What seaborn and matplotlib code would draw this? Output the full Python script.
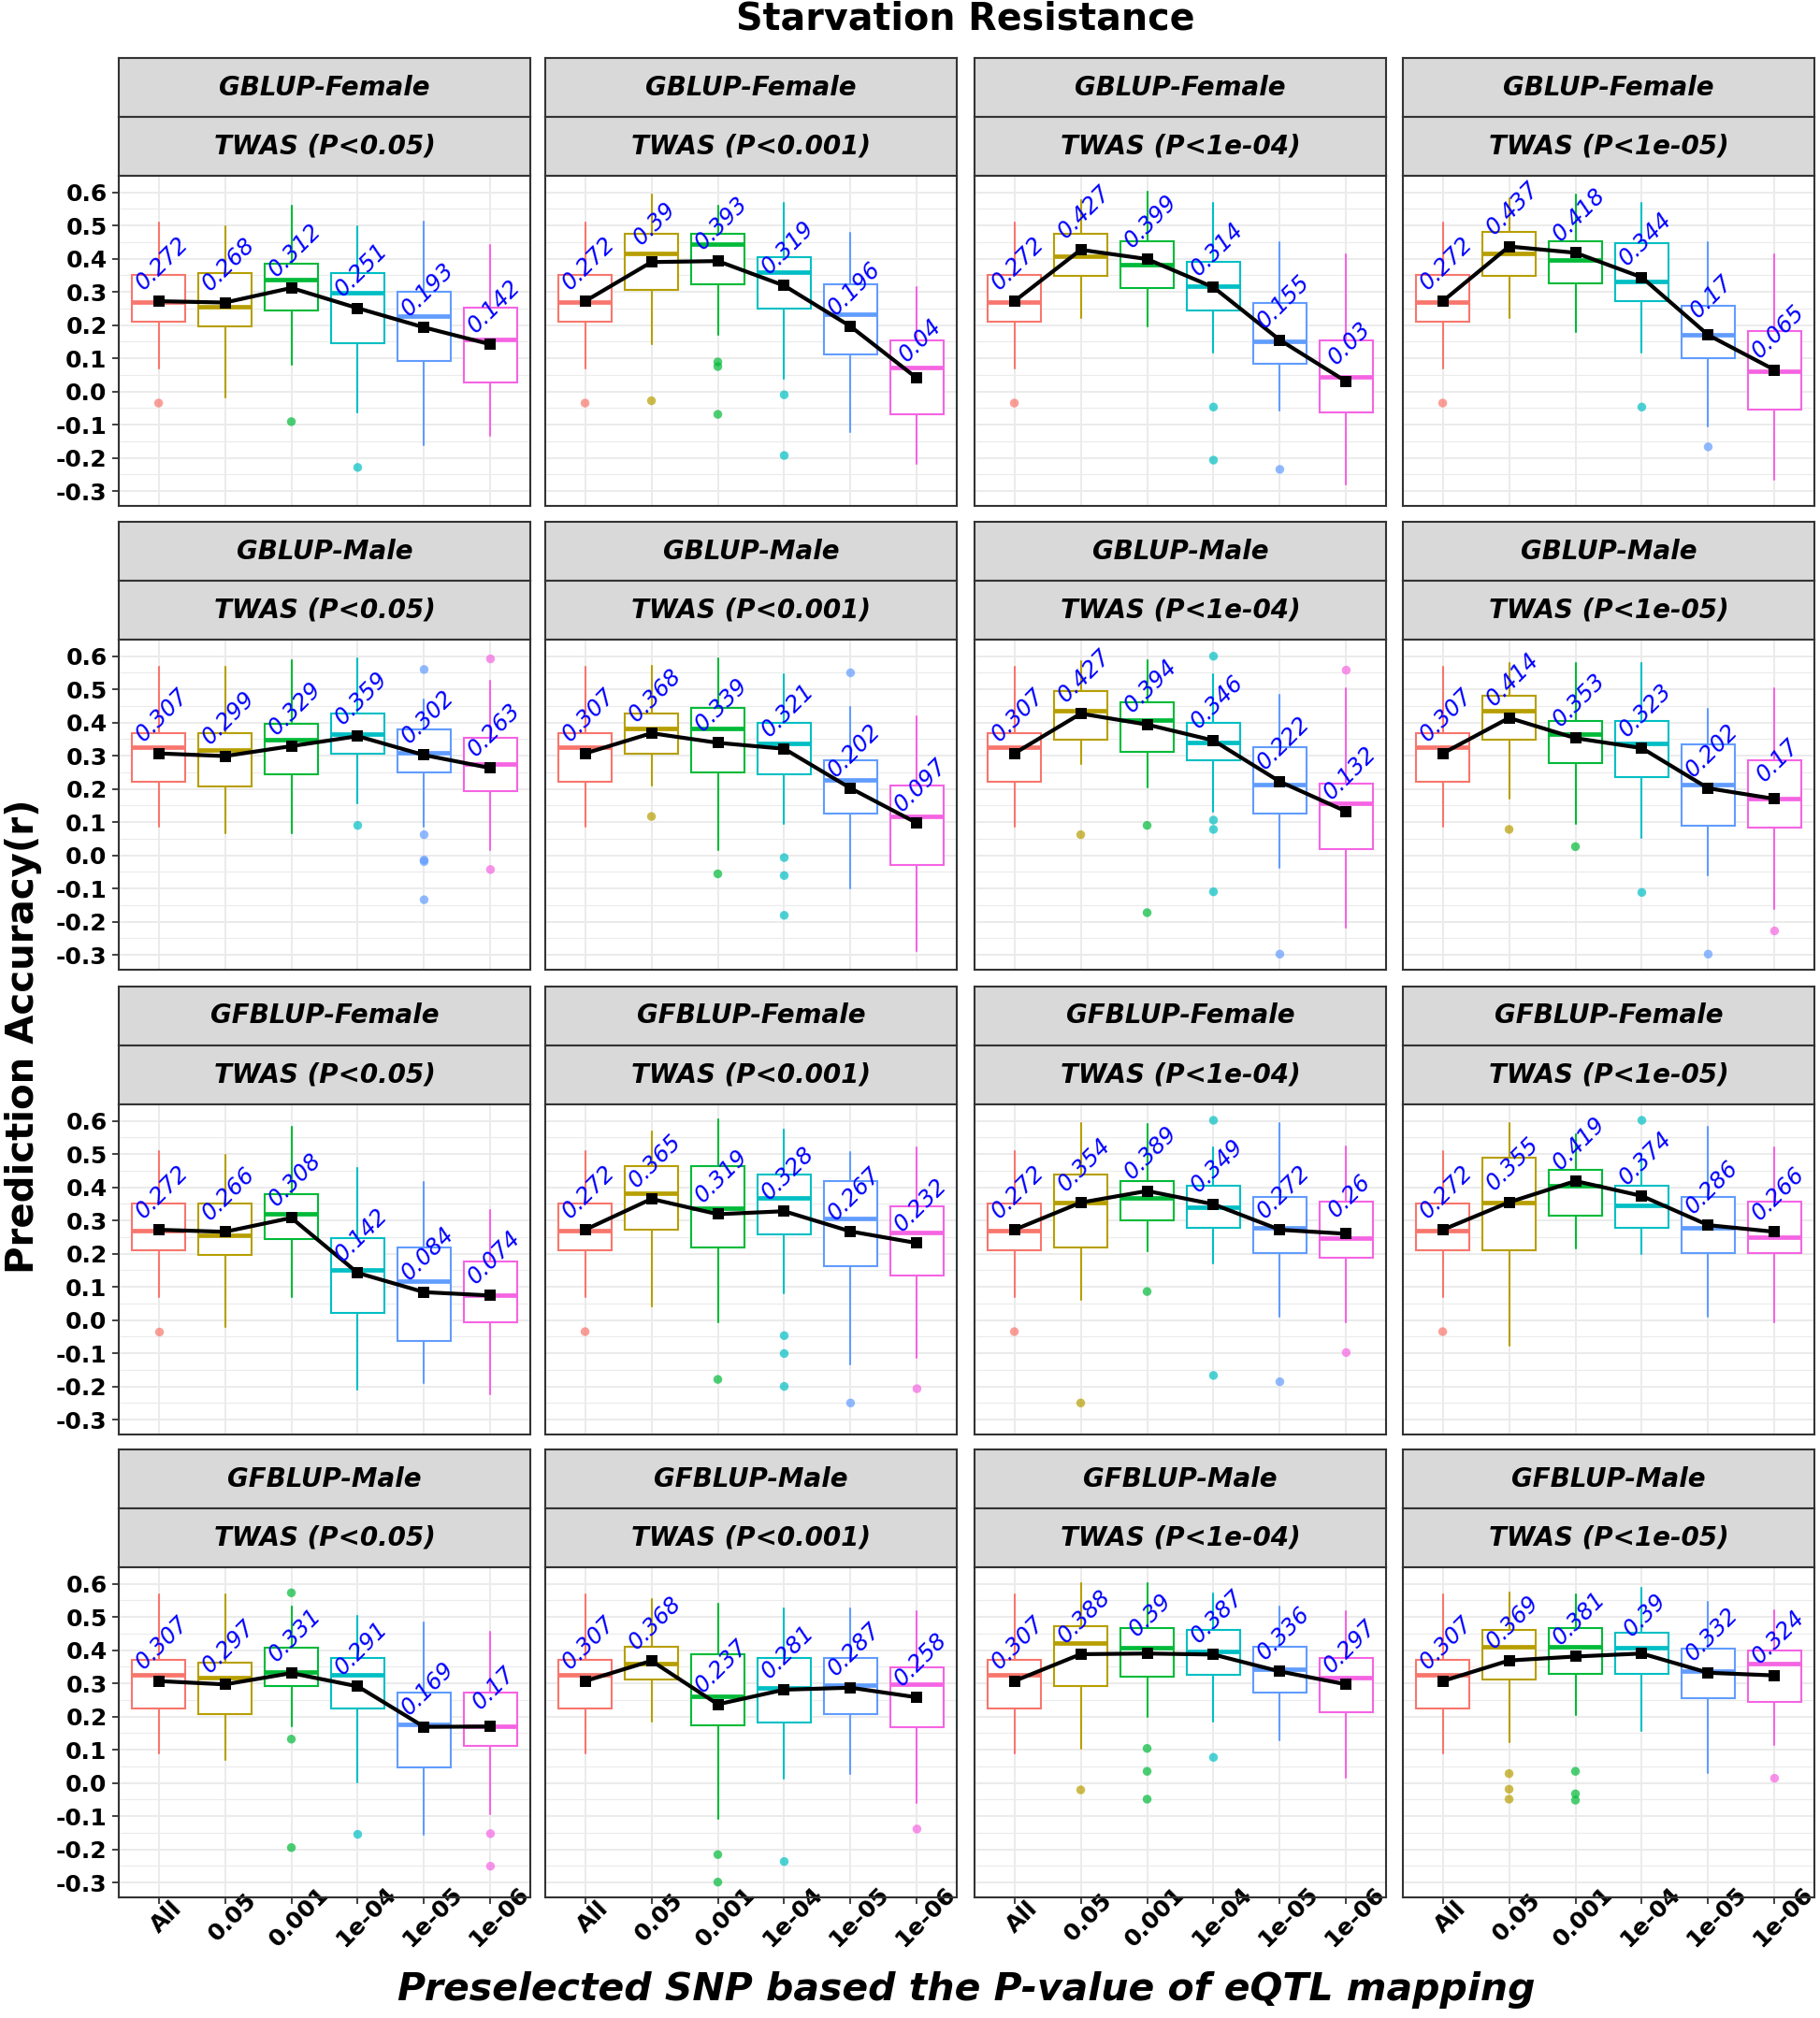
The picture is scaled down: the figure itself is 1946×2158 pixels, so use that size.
import numpy as np
import pandas as pd
import matplotlib.pyplot as plt
import seaborn as sns

# facet labels and categories
models = ['GBLUP-Female', 'GBLUP-Male', 'GFBLUP-Female', 'GFBLUP-Male']
twas = ['TWAS (P<0.05)', 'TWAS (P<0.001)', 'TWAS (P<1e-04)', 'TWAS (P<1e-05)']
snp_sets = ['All', '0.05', '0.001', '1e-04', '1e-05', '1e-06']
palette = ['#F8766D', '#B79F00', '#00BA38', '#00BFC4', '#619CFF', '#F564E3']

# one row per panel (model x twas, row by row), one value per snp set
means = [
    [0.272, 0.268, 0.312, 0.251, 0.193, 0.142],
    [0.272, 0.39, 0.393, 0.319, 0.196, 0.04],
    [0.272, 0.427, 0.399, 0.314, 0.155, 0.03],
    [0.272, 0.437, 0.418, 0.344, 0.17, 0.065],
    [0.307, 0.299, 0.329, 0.359, 0.302, 0.263],
    [0.307, 0.368, 0.339, 0.321, 0.202, 0.097],
    [0.307, 0.427, 0.394, 0.346, 0.222, 0.132],
    [0.307, 0.414, 0.353, 0.323, 0.202, 0.17],
    [0.272, 0.266, 0.308, 0.142, 0.084, 0.074],
    [0.272, 0.365, 0.319, 0.328, 0.267, 0.232],
    [0.272, 0.354, 0.389, 0.349, 0.272, 0.26],
    [0.272, 0.355, 0.419, 0.374, 0.286, 0.266],
    [0.307, 0.297, 0.331, 0.291, 0.169, 0.17],
    [0.307, 0.368, 0.237, 0.281, 0.287, 0.258],
    [0.307, 0.388, 0.39, 0.387, 0.336, 0.297],
    [0.307, 0.369, 0.381, 0.39, 0.332, 0.324],
]

whisk_hi = [
    [0.51, 0.498, 0.561, 0.498, 0.512, 0.442],
    [0.51, 0.594, 0.56, 0.567, 0.477, 0.315],
    [0.51, 0.578, 0.602, 0.567, 0.45, 0.414],
    [0.51, 0.583, 0.594, 0.567, 0.45, 0.414],
    [0.567, 0.567, 0.588, 0.595, 0.47, 0.525],
    [0.567, 0.572, 0.595, 0.545, 0.447, 0.419],
    [0.567, 0.585, 0.588, 0.545, 0.484, 0.503],
    [0.567, 0.58, 0.58, 0.58, 0.442, 0.503],
    [0.51, 0.498, 0.583, 0.458, 0.417, 0.332],
    [0.51, 0.569, 0.604, 0.575, 0.506, 0.519],
    [0.51, 0.595, 0.59, 0.52, 0.595, 0.524],
    [0.51, 0.595, 0.56, 0.5, 0.583, 0.519],
    [0.567, 0.567, 0.532, 0.504, 0.485, 0.455],
    [0.567, 0.553, 0.54, 0.526, 0.526, 0.518],
    [0.567, 0.603, 0.603, 0.57, 0.532, 0.518],
    [0.567, 0.575, 0.568, 0.589, 0.546, 0.52],
]

q3 = [
    [0.35, 0.357, 0.384, 0.357, 0.301, 0.252],
    [0.35, 0.475, 0.475, 0.406, 0.322, 0.153],
    [0.35, 0.475, 0.454, 0.39, 0.266, 0.153],
    [0.35, 0.482, 0.454, 0.447, 0.259, 0.181],
    [0.369, 0.369, 0.397, 0.426, 0.378, 0.355],
    [0.369, 0.426, 0.445, 0.398, 0.287, 0.21],
    [0.369, 0.495, 0.461, 0.398, 0.327, 0.216],
    [0.369, 0.48, 0.404, 0.404, 0.335, 0.285],
    [0.35, 0.35, 0.378, 0.246, 0.218, 0.176],
    [0.35, 0.463, 0.463, 0.44, 0.42, 0.343],
    [0.35, 0.44, 0.42, 0.406, 0.371, 0.357],
    [0.35, 0.489, 0.454, 0.406, 0.371, 0.357],
    [0.37, 0.363, 0.407, 0.377, 0.273, 0.273],
    [0.37, 0.411, 0.389, 0.377, 0.377, 0.349],
    [0.37, 0.473, 0.468, 0.462, 0.411, 0.377],
    [0.37, 0.462, 0.468, 0.454, 0.405, 0.398],
]

medians = [
    [0.27, 0.256, 0.338, 0.298, 0.227, 0.158],
    [0.27, 0.416, 0.444, 0.359, 0.233, 0.073],
    [0.27, 0.409, 0.381, 0.318, 0.15, 0.045],
    [0.27, 0.416, 0.395, 0.332, 0.172, 0.061],
    [0.325, 0.318, 0.348, 0.365, 0.31, 0.275],
    [0.325, 0.381, 0.382, 0.338, 0.227, 0.116],
    [0.325, 0.435, 0.409, 0.339, 0.212, 0.156],
    [0.325, 0.435, 0.365, 0.336, 0.212, 0.17],
    [0.27, 0.256, 0.32, 0.15, 0.117, 0.075],
    [0.27, 0.383, 0.336, 0.367, 0.306, 0.263],
    [0.27, 0.355, 0.367, 0.341, 0.277, 0.248],
    [0.27, 0.354, 0.406, 0.345, 0.277, 0.249],
    [0.325, 0.317, 0.334, 0.327, 0.177, 0.172],
    [0.325, 0.361, 0.261, 0.285, 0.294, 0.297],
    [0.325, 0.422, 0.408, 0.396, 0.344, 0.316],
    [0.325, 0.41, 0.41, 0.408, 0.337, 0.36],
]

q1 = [
    [0.21, 0.195, 0.244, 0.146, 0.091, 0.028],
    [0.21, 0.306, 0.322, 0.251, 0.113, -0.069],
    [0.21, 0.348, 0.313, 0.244, 0.084, -0.063],
    [0.21, 0.348, 0.327, 0.273, 0.099, -0.055],
    [0.222, 0.207, 0.243, 0.306, 0.249, 0.194],
    [0.222, 0.306, 0.25, 0.243, 0.125, -0.028],
    [0.222, 0.348, 0.313, 0.285, 0.125, 0.02],
    [0.222, 0.348, 0.278, 0.235, 0.09, 0.084],
    [0.21, 0.195, 0.244, 0.021, -0.063, -0.007],
    [0.21, 0.273, 0.218, 0.259, 0.162, 0.134],
    [0.21, 0.218, 0.301, 0.279, 0.202, 0.189],
    [0.21, 0.211, 0.315, 0.279, 0.202, 0.202],
    [0.223, 0.207, 0.292, 0.223, 0.047, 0.111],
    [0.223, 0.313, 0.174, 0.181, 0.207, 0.168],
    [0.223, 0.292, 0.32, 0.327, 0.271, 0.214],
    [0.223, 0.313, 0.328, 0.328, 0.256, 0.243],
]

whisk_lo = [
    [0.07, -0.017, 0.082, -0.064, -0.162, -0.135],
    [0.07, 0.143, 0.171, 0.039, -0.121, -0.218],
    [0.07, 0.221, 0.195, 0.117, -0.057, -0.28],
    [0.07, 0.221, 0.179, 0.117, -0.106, -0.265],
    [0.087, 0.066, 0.066, 0.156, 0.087, 0.017],
    [0.087, 0.211, 0.017, 0.094, -0.101, -0.289],
    [0.087, 0.275, 0.205, 0.13, -0.037, -0.218],
    [0.087, 0.172, 0.094, 0.053, -0.059, -0.162],
    [0.07, -0.021, 0.068, -0.21, -0.191, -0.224],
    [0.07, 0.04, -0.008, 0.082, -0.135, -0.115],
    [0.07, 0.061, 0.207, 0.172, 0.011, -0.008],
    [0.07, -0.077, 0.216, 0.2, 0.011, -0.008],
    [0.088, 0.068, 0.172, 0.003, -0.155, -0.093],
    [0.088, 0.186, -0.108, 0.012, 0.026, -0.059],
    [0.088, 0.102, 0.2, 0.186, 0.129, 0.017],
    [0.088, 0.123, 0.205, 0.157, 0.031, 0.115],
]

outliers = [
    [[-0.035], [], [-0.091], [-0.229], [], []],
    [[-0.035], [-0.028], [0.089, 0.075, -0.069], [-0.01, -0.193], [], []],
    [[-0.035], [], [], [-0.047, -0.207], [-0.235], []],
    [[-0.035], [], [], [-0.047], [-0.167], []],
    [[], [], [], [0.09], [0.56, 0.062, -0.014, -0.019, -0.134], [0.592, -0.043]],
    [[], [0.117], [-0.056], [-0.007, -0.061, -0.181], [0.55], []],
    [[], [0.062], [0.09, -0.173], [0.60, 0.106, 0.078, -0.11], [-0.298], [0.558]],
    [[], [0.078], [0.026], [-0.112], [-0.298], [-0.228]],
    [[-0.035], [], [], [], [], []],
    [[-0.035], [], [-0.179], [-0.047, -0.101, -0.2], [-0.25], [-0.207]],
    [[-0.035], [-0.25], [0.086], [0.602, -0.167], [-0.186], [-0.098]],
    [[-0.035], [], [], [0.602], [], []],
    [[], [], [0.573, 0.132, -0.195], [-0.155], [], [-0.153, -0.251]],
    [[], [], [-0.216, -0.299], [-0.237], [], [-0.139]],
    [[], [-0.021], [0.104, 0.035, -0.049], [0.077], [], []],
    [[], [0.028, -0.019, -0.049], [0.035, -0.033, -0.052], [], [], [0.014]],
]

y_ticks = [-0.3, -0.2, -0.1, 0.0, 0.1, 0.2, 0.3, 0.4, 0.5, 0.6]
y_minor = [-0.25, -0.15, -0.05, 0.05, 0.15, 0.25, 0.35, 0.45, 0.55]

# long tables for seaborn
mean_rows = []
out_rows = []
for k in range(16):
    for c in range(6):
        mean_rows.append({'panel': k, 'pos': c, 'snp': snp_sets[c], 'mean': means[k][c]})
        for v in outliers[k][c]:
            out_rows.append({'panel': k, 'pos': c, 'snp': snp_sets[c], 'value': v})
mean_df = pd.DataFrame(mean_rows)
out_df = pd.DataFrame(out_rows)
pal = dict(zip(snp_sets, palette))

sns.set_theme(style='white')
plt.rcParams['font.family'] = ['DejaVu Sans']
plt.rcParams['text.color'] = 'black'
plt.rcParams['axes.labelcolor'] = 'black'
plt.rcParams['xtick.color'] = 'black'
plt.rcParams['ytick.color'] = 'black'

W, H = 1946, 2158
fig = plt.figure(figsize=(W / 100, H / 100), dpi=100)

col_x = [127, 583, 1042, 1500]
row_top = [188, 684, 1181, 1676]
pw, ph, sh = 440, 353, 63
edge = '#333333'


def rect(x, y, w, h):
    return [x / W, 1 - (y + h) / H, w / W, h / H]


for i in range(4):
    for j in range(4):
        k = i * 4 + j
        x0, y0 = col_x[j], row_top[i]

        # two stacked strips
        for s, lab in enumerate([models[i], twas[j]]):
            sax = fig.add_axes(rect(x0, y0 - (2 - s) * sh, pw, sh))
            sax.set_facecolor('#D9D9D9')
            sax.set_xticks([])
            sax.set_yticks([])
            for sp in sax.spines.values():
                sp.set_visible(True)
                sp.set_color(edge)
                sp.set_linewidth(1.5)
            sax.text(0.5, 0.5, lab, ha='center', va='center', fontsize=20,
                     fontweight='bold', style='italic', color='black',
                     transform=sax.transAxes)

        ax = fig.add_axes(rect(x0, y0, pw, ph))
        ax.set_axisbelow(True)

        stats = [dict(med=medians[k][c], q1=q1[k][c], q3=q3[k][c],
                      whislo=whisk_lo[k][c], whishi=whisk_hi[k][c], fliers=[])
                 for c in range(6)]
        bp = ax.bxp(stats, positions=range(6), widths=0.8, showfliers=False,
                    showcaps=False, patch_artist=True)
        for c in range(6):
            bp['boxes'][c].set(facecolor='white', edgecolor=palette[c], linewidth=1.5, zorder=2)
            bp['medians'][c].set(color=palette[c], linewidth=3.4, zorder=2.5)
            for wl in bp['whiskers'][2 * c:2 * c + 2]:
                wl.set(color=palette[c], linewidth=1.5, zorder=1.5)

        sub_out = out_df[out_df['panel'] == k]
        if len(sub_out):
            sns.scatterplot(data=sub_out, x='pos', y='value', hue='snp', palette=pal,
                            s=46, alpha=0.7, linewidth=0, legend=False, ax=ax, zorder=3)

        sub_mean = mean_df[mean_df['panel'] == k]
        sns.lineplot(data=sub_mean, x='pos', y='mean', color='black', linewidth=3,
                     marker='s', markersize=8, markeredgewidth=0, ax=ax, zorder=4)
        for c in range(6):
            m = means[k][c]
            ax.text(c + 0.05, m + 0.115, f'{m:g}', rotation=45, ha='center', va='center',
                    color='blue', fontsize=17.5, style='italic', zorder=5)

        ax.set_xlim(-0.6, 5.6)
        ax.set_ylim(-0.345, 0.65)
        ax.set_xticks(range(6))
        ax.set_xticklabels(snp_sets, rotation=45, ha='center', va='top',
                           rotation_mode='anchor', fontsize=18, fontweight='bold')
        ax.set_yticks(y_ticks)
        ax.set_yticklabels([f'{v:.1f}' for v in y_ticks], fontsize=18, fontweight='bold')
        ax.set_yticks(y_minor, minor=True)
        ax.grid(which='major', color='#EBEBEB', linewidth=1.4)
        ax.grid(which='minor', axis='y', color='#EBEBEB', linewidth=0.8)
        ax.set_xlabel('')
        ax.set_ylabel('')
        ax.tick_params(axis='both', which='major', length=5, width=1.3, color=edge,
                       labelcolor='black', pad=4,
                       left=(j == 0), labelleft=(j == 0),
                       bottom=(i == 3), labelbottom=(i == 3))
        ax.tick_params(axis='y', which='minor', left=False)
        for sp in ax.spines.values():
            sp.set_visible(True)
            sp.set_color(edge)
            sp.set_linewidth(1.5)

fig.text(1032 / W, 1 - 21 / H, 'Starvation Resistance', ha='center', va='center',
         fontsize=28.5, fontweight='bold', color='black')
fig.text(25 / W, 1 - 1108 / H, 'Prediction Accuracy(r)', ha='center', va='center',
         rotation=90, fontsize=29, fontweight='bold', color='black')
fig.text(1033 / W, 1 - 2128 / H, 'Preselected SNP based the P-value of eQTL mapping',
         ha='center', va='center', fontsize=29.5, fontweight='bold', style='italic',
         color='black')

fig.savefig('out.png', dpi=100)
